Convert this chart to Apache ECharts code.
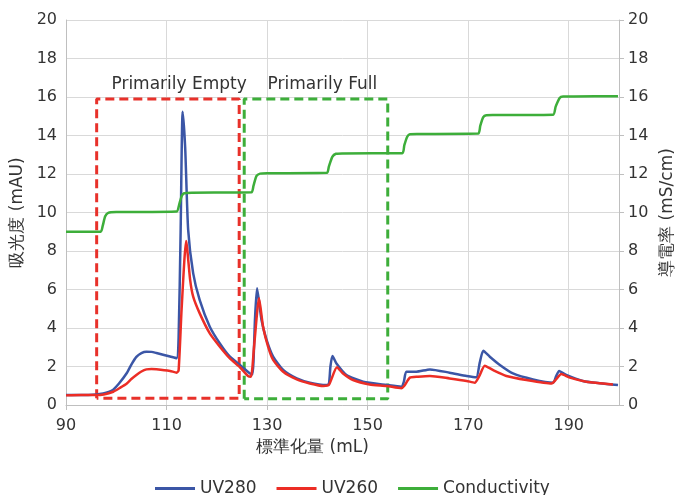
<!DOCTYPE html>
<html><head><meta charset="utf-8">
<script src="https://cdn.jsdelivr.net/npm/echarts@6/dist/echarts.min.js"></script>
<style>html,body{margin:0;padding:0;background:#fff}#c{width:675px;height:495px}</style>
</head><body><div id="c"></div>
<script>
const xTicks = [90, 110, 130, 150, 170, 190];
const yTicks = [0, 2, 4, 6, 8, 10, 12, 14, 16, 18, 20];
const seriesNames = ['UV280', 'UV260', 'Conductivity'];
const boxLabels = ['Primarily Empty', 'Primarily Full'];
const boxLabelPos = [[112.5, 16.65], [141.0, 16.65]];

const uv280 = [[90,0.52],[93,0.52],[96,0.55],[97.4,0.6],[98.5,0.68],[99.4,0.8],[100.5,1.1],[102.1,1.66],[103,2.1],[104,2.5],[105,2.7],[106,2.77],[107,2.76],[108,2.7],[109.5,2.6],[110.7,2.52],[112,2.43],[112.4,3.5],[112.8,9],[113.2,15.24],[113.7,13.4],[114.3,9.1],[115.3,6.84],[116.6,5.45],[118.6,4.07],[120.6,3.2],[122.6,2.51],[124.6,2.08],[126.6,1.64],[127.1,1.6],[127.6,4.5],[128.0,6.06],[128.9,4.4],[129.9,3.38],[131.2,2.51],[133.2,1.82],[135.9,1.38],[138.5,1.16],[141.8,1.04],[142.3,1.1],[142.6,2.0],[143.0,2.55],[143.8,2.16],[145.8,1.56],[149.1,1.21],[153.8,1.04],[156.7,0.95],[157.2,1.2],[157.7,1.73],[159.7,1.73],[162.4,1.85],[166.3,1.68],[169.7,1.51],[171.6,1.44],[172.3,2.2],[173.0,2.82],[174.3,2.51],[176.3,2.08],[178.9,1.64],[182.9,1.33],[186.9,1.16],[187.5,1.5],[188.1,1.77],[189.5,1.56],[192.8,1.25],[196.2,1.13],[199.8,1.04]];

const uv260 = [[90,0.5],[93,0.52],[96,0.52],[97.5,0.55],[99.4,0.69],[100.8,0.9],[102.1,1.12],[103,1.35],[104,1.56],[105,1.74],[106,1.85],[107,1.87],[108,1.86],[110.7,1.77],[112,1.68],[112.4,1.8],[113,5],[113.9,8.52],[114.7,6.49],[115.3,5.63],[116.6,4.76],[118.6,3.72],[120.6,3.03],[122.6,2.42],[124.6,1.96],[126.2,1.51],[126.8,1.47],[127.4,3],[128.4,5.54],[129.2,4.07],[130.2,3.03],[131.2,2.34],[133.2,1.73],[135.9,1.33],[138.5,1.12],[141.2,0.99],[142.3,1.05],[143.9,1.96],[145.1,1.64],[147.1,1.3],[150.4,1.07],[153.8,0.99],[156.7,0.87],[157.3,1.0],[158.4,1.42],[160,1.47],[162.4,1.51],[166.3,1.38],[169.7,1.25],[171.3,1.16],[172.2,1.5],[173.3,2.04],[174.9,1.82],[177.6,1.51],[181.6,1.3],[186.6,1.12],[187.4,1.3],[188.5,1.61],[190.2,1.42],[193.5,1.21],[198.8,1.07]];

const conductivity = [[90,9.0],[96.9,9.0],[97.3,9.3],[97.8,9.8],[98.4,9.98],[100,10.02],[112,10.05],[112.5,10.4],[113,10.85],[113.5,11.0],[115,11.03],[126.9,11.05],[127.3,11.4],[127.9,11.9],[128.6,12.02],[130,12.04],[141.9,12.06],[142.3,12.4],[143,12.9],[143.7,13.05],[145,13.07],[156.9,13.08],[157.3,13.5],[157.9,13.95],[158.4,14.07],[160,14.08],[172,14.1],[172.4,14.5],[173,14.95],[173.6,15.05],[175,15.06],[186.9,15.08],[187.4,15.5],[188.2,15.95],[188.9,16.02],[191,16.03],[199.8,16.04]];

const emptyBox = [[96.1,0.35],[96.1,15.9],[124.45,15.9],[124.45,0.35],[96.1,0.35]];
const fullBox = [[125.45,0.32],[125.45,15.9],[154.0,15.9],[154.0,0.32],[125.45,0.32]];

const FONT = 'DejaVu Sans';
const TXT = '#333333';
const chart = echarts.init(document.getElementById('c'), null, {renderer: 'canvas'});
const lineS = (name, data, color, yi) => ({
  name, type: 'line', data, yAxisIndex: yi, symbol: 'none', smooth: 0.2,
  lineStyle: {color, width: 2.5}, itemStyle: {color}, z: 3
});
const boxS = (data, color) => ({
  type: 'line', data, symbol: 'none', silent: true, z: 2,
  lineStyle: {color, width: 3, type: [9, 5]}
});
chart.setOption({
  animation: false,
  grid: {left: 66, right: 56, top: 20, bottom: 90, outerBoundsMode: 'none', containLabel: false},
  textStyle: {fontFamily: FONT},
  legend: {
    data: seriesNames, top: 475, left: 150, itemWidth: 40, itemHeight: 3, itemGap: 20,
    icon: 'rect',
    textStyle: {fontFamily: FONT, fontSize: 17, color: TXT}
  },
  xAxis: {
    type: 'value', min: xTicks[0], max: 200, interval: 20,
    name: '標準化量 (mL)', nameLocation: 'middle', nameGap: 34,
    nameTextStyle: {fontFamily: FONT, fontSize: 17, color: TXT, padding: [0, 60, 0, 0]},
    axisLine: {show: true, lineStyle: {color: '#bfbfbf'}},
    axisTick: {show: true, length: 5, lineStyle: {color: '#bfbfbf'}},
    axisLabel: {fontFamily: FONT, fontSize: 16, color: TXT, margin: 13, showMaxLabel: false},
    splitLine: {show: true, lineStyle: {color: '#d9d9d9'}}
  },
  yAxis: [{
    type: 'value', min: yTicks[0], max: yTicks[yTicks.length - 1], interval: 2,
    name: '吸光度 (mAU)', nameLocation: 'middle', nameGap: 40, nameRotate: 90,
    nameTextStyle: {fontFamily: FONT, fontSize: 17, color: TXT},
    axisLine: {show: true, lineStyle: {color: '#bfbfbf'}},
    axisTick: {show: false},
    axisLabel: {fontFamily: FONT, fontSize: 16, color: TXT, margin: 9},
    splitLine: {show: true, lineStyle: {color: '#d9d9d9'}}
  }, {
    type: 'value', min: yTicks[0], max: yTicks[yTicks.length - 1], interval: 2, position: 'right',
    name: '導電率 (mS/cm)', nameLocation: 'middle', nameGap: 38, nameRotate: 90,
    nameTextStyle: {fontFamily: FONT, fontSize: 17, color: TXT},
    axisLine: {show: true, lineStyle: {color: '#bfbfbf'}},
    axisTick: {show: true, length: 5, lineStyle: {color: '#bfbfbf'}},
    axisLabel: {fontFamily: FONT, fontSize: 16, color: TXT, margin: 9},
    splitLine: {show: false}
  }],
  series: [
    boxS(emptyBox, '#e8312a'),
    boxS(fullBox, '#3dae3a'),
    lineS(seriesNames[0], uv280, '#3b56a6', 0),
    lineS(seriesNames[1], uv260, '#ec2d25', 0),
    lineS(seriesNames[2], conductivity, '#3dae3a', 1),
    {
      type: 'scatter', symbolSize: 0, silent: true, z: 4,
      itemStyle: {opacity: 1},
      data: boxLabelPos.map((p, i) => ({value: p, name: boxLabels[i]})),
      label: {show: true, position: 'inside', formatter: p => p.name, opacity: 1,
        fontFamily: FONT, fontSize: 17, color: TXT}
    }
  ]
});
</script></body></html>
